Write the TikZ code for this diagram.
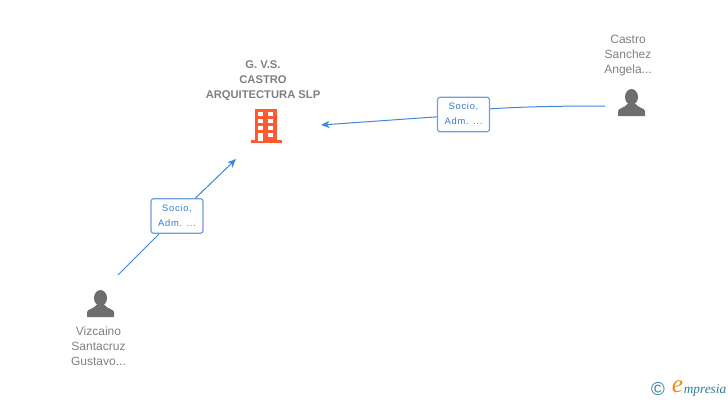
\documentclass[tikz,border=0pt]{standalone}
\usepackage{fontspec}
\setmainfont{Liberation Sans}
\newfontfamily\logofont{Liberation Serif}
\usetikzlibrary{arrows.meta}
\definecolor{linkblue}{HTML}{3F85E0}
\definecolor{boxblue}{HTML}{6C9EE0}
\definecolor{labelblue}{HTML}{2F78D8}
\definecolor{textgray}{HTML}{808080}
\definecolor{icongray}{HTML}{6E6E6E}
\definecolor{buildorange}{HTML}{FF5B2E}
\definecolor{logoblue}{HTML}{2E7C9C}
\definecolor{logoorange}{HTML}{F08A1D}
\tikzset{
	person/.style={align=center,text=textgray,font=\fontsize{9}{11.25}\selectfont},
	company/.style={align=center,text=textgray,font=\fontsize{8.4}{11.25}\selectfont\bfseries},
	rolebox/.style={draw=boxblue,line width=0.9pt,rounded corners=2pt,fill=white,align=center,text=labelblue,
		minimum width=39pt,minimum height=26pt,inner sep=0pt,text depth=0.7pt,font=\fontsize{7}{11.25}\selectfont\addfontfeatures{LetterSpace=8}},
	link/.style={draw=linkblue,line width=0.75pt},
	linkarrow/.style={link,-{Stealth[length=6.5pt,width=5.5pt]}}
}
\def\personicon#1{
	\begin{scope}[shift={(#1)}]
		\fill [icongray] (0,-6) ellipse (6.5 and 8);
		\fill [icongray] (-13.5,13) -- (-13.5,8) .. controls (-13,5) and (-7,5) .. (-4,1) -- (4,1) .. controls (7,5) and (13,5) .. (13.5,8) -- (13.5,13) -- cycle;
	\end{scope}
}
\begin{document}
\begin{tikzpicture}[x=0.75pt,y=-0.75pt]
	\useasboundingbox (0,0) rectangle (728,400);

	%people and their names
	\coordinate (personC) at (631.5,103);
	\coordinate (personV) at (100.5,304);
	\personicon{personC}
	\personicon{personV}
	\node [person] (nameC) at (628,55.5) {Castro\\Sanchez\\Angela...};
	\node [person] (nameV) at (98.5,346) {Vizcaino\\Santacruz\\Gustavo...};

	%the company
	\node [company] (nameG) at (263,80.5) {G. V.S.\\CASTRO\\ARQUITECTURA SLP};
	\fill [buildorange] (255,109) rectangle (277,141);
	\fill [buildorange] (250.5,140) rectangle (282,143);
	\foreach \y in {112,119,126}
		\foreach \x in {258,268}
			\fill [white] (\x,\y) rectangle ++(5,4);
	\fill [white] (258,133) rectangle ++(5,8);
	\fill [white] (268,133) rectangle ++(5,4);

	%free ends of the connectors
	\coordinate (startC) at (605,106);
	\coordinate (endC) at (321,125);
	\coordinate (startV) at (118,275);
	\coordinate (endV) at (236,159);

	\node [rolebox] (roleC) at (463.5,114.5) {Socio,\\Adm. ...};
	\node [rolebox] (roleV) at (177,216) {Socio,\\Adm. ...};

	\draw [link] (startC) .. controls (565,106) and (525,106.5) .. (roleC.12);
	\draw [linkarrow] (roleC.185) -- (endC);
	\draw [link] (startV) -- (roleV);
	\draw [linkarrow] (roleV) -- (endV);

	%logo
	\node [text=logoblue,font=\fontsize{14}{14}\selectfont,inner sep=0pt] (logoC) at (658,389) {©};
	\node [text=logoorange,font=\logofont\fontsize{19}{19}\selectfont\itshape,inner sep=0pt] (logoE) at (677.5,387) {e};
	\node [text=logoblue,font=\logofont\fontsize{10}{10}\selectfont\itshape,inner sep=0pt,anchor=west] (logoT) at (683.5,390.5) {mpresia};
\end{tikzpicture}
\end{document}
